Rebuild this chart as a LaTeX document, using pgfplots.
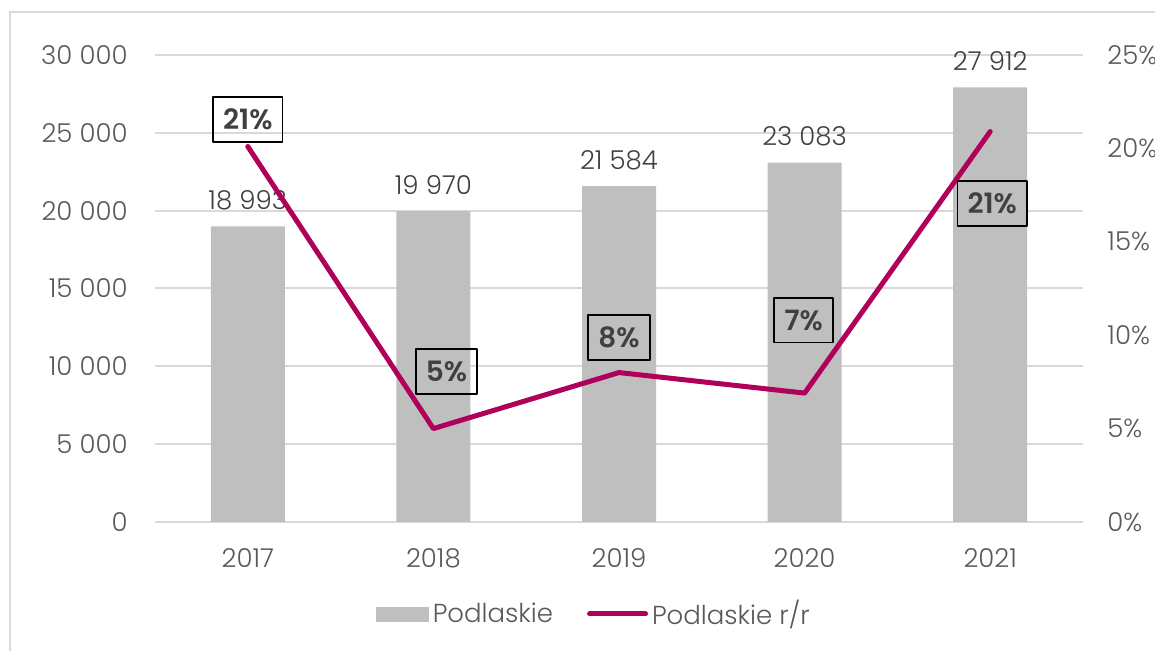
\documentclass[border=0pt]{standalone}
\usepackage{fontspec}
\setmainfont{Poppins}[UprightFont=* Light, BoldFont=* SemiBold]
\usepackage{pgfplots}
\pgfplotsset{compat=1.18}
\usepackage{pgfplotstable}
\definecolor{barc}{RGB}{191,191,191}
\definecolor{gridc}{RGB}{217,217,217}
\definecolor{linec}{RGB}{175,0,90}
\definecolor{txt}{RGB}{89,89,89}
\definecolor{labc}{RGB}{64,64,64}

% bars: Podlaskie
\pgfplotstableread{
x val
0 18993
1 19970
2 21584
3 23083
4 27912
}\bars
% line: Podlaskie r/r, with label value and label offsets (pt)
\pgfplotstableread{
x rr lab dx dy
0 20.1 21 0 13.5
1 5.0 5 6.5 28.5
2 8.0 8 0 17.5
3 6.9 7 -0.5 36.5
4 20.9 21 1 -36
}\rr

\pgfplotsset{
  /pgf/number format/.cd, 1000 sep={\ }, assume math mode=true,
  /pgfplots/.cd,
  common/.style={width=464pt, height=233.5pt, scale only axis,
    xmin=-0.5, xmax=4.5, major tick length=0pt,
    tick label style={font=\fontsize{13}{15}\selectfont, text=txt}},
}

\begin{document}
\begin{tikzpicture}
\begin{axis}[common,
  ymin=0, ymax=30000, ytick={0,5000,...,30000},
  scaled y ticks=false,
  axis line style={draw=none},
  ymajorgrids, grid style={gridc, line width=1pt},
  xtick={0,...,4}, xticklabels={2017,2018,2019,2020,2021},
  yticklabel style={anchor=east, inner sep=0pt, xshift=-13.5pt},
  xticklabel style={anchor=center, inner sep=0pt, yshift=-18pt},
]
\addplot[ybar, bar width=37pt, fill=barc, draw=none,
  nodes near coords,
  every node near coord/.append style={anchor=center, yshift=13pt,
    font=\fontsize{13}{15}\selectfont, text=labc}]
  table[x=x, y=val] {\bars};
\end{axis}

\begin{axis}[common,
  ymin=0, ymax=25, ytick={0,5,...,25},
  axis x line=none, axis y line*=right, y axis line style={draw=none},
  yticklabel={\pgfmathprintnumber{\tick}\%},
  yticklabel style={anchor=west, inner sep=0pt, xshift=12pt},
  legend style={draw=none, at={(0.474,-0.197)}, anchor=center,
    font=\fontsize{13}{15}\selectfont, text=txt,
    /tikz/every even column/.append style={column sep=15pt}},
  legend columns=2, legend cell align=left,
]
\addlegendimage{legend image code/.code={\fill[barc] (0pt,-3.5pt) rectangle (26pt,3.5pt);}}
\addlegendentry{Podlaskie}
\addplot[linec, line width=2.5pt, line cap=round, line join=round,
  point meta=\thisrow{lab},
  visualization depends on={\thisrow{dx} \as \dx},
  visualization depends on={\thisrow{dy} \as \dy},
  nodes near coords={\textbf{\pgfmathprintnumber{\pgfplotspointmeta}\%}},
  every node near coord/.append style={anchor=center,
    xshift=\dx pt, yshift=\dy pt, draw=black, line width=0.9pt,
    inner xsep=5pt, inner ysep=6pt, fill=none, text=labc,
    font=\fontsize{14}{16}\selectfont},
  legend image code/.code={\draw[linec, line width=2.5pt, line cap=round] (0pt,0pt) -- (28pt,0pt);}]
  table[x=x, y=rr] {\rr};
\addlegendentry{Podlaskie r/r}
\end{axis}

\draw[gridc, line width=1pt] (-72.5pt,-70pt) -- (-72.5pt,255pt) -- (510pt,255pt);
\pgfresetboundingbox
\path[use as bounding box] (-77.5pt,-64.5pt) rectangle (500pt,261pt);
\end{tikzpicture}
\end{document}
